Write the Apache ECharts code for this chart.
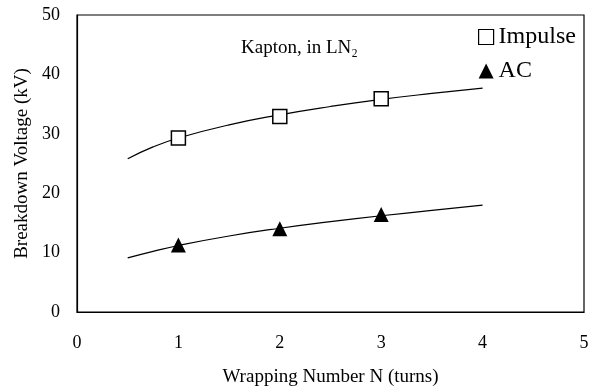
<!DOCTYPE html>
<html>
<head>
<meta charset="utf-8">
<script src="https://cdn.jsdelivr.net/npm/echarts@6/dist/echarts.min.js"></script>
<style>
  html, body { margin: 0; padding: 0; background: #fff; }
  #chart { width: 600px; height: 388px; }
</style>
</head>
<body>
<div id="chart"></div>
<script>
// measured points
const turns = [1, 2, 3];
const impulse = [29.3, 32.9, 35.9];
const ac = [11.3, 14.0, 16.4];

// fitted curves
const fitX = [0.5, 0.75, 1, 1.5, 2, 2.5, 3, 3.5, 4];
const impulseFit = [25.8, 27.8, 29.3, 31.5, 33.2, 34.6, 35.8, 36.8, 37.7];
const acFit = [9.1, 10.2, 11.2, 12.8, 14.1, 15.2, 16.2, 17.1, 18.0];

const pair = (xs, ys) => xs.map((x, i) => [x, ys[i]]);
const FONT = "Liberation Serif";

const chart = echarts.init(document.getElementById("chart"));

const option = {
  animation: false,
  backgroundColor: "#fff",
  textStyle: { fontFamily: FONT, color: "#000" },
  grid: {
    left: 77, right: 16, top: 15, bottom: 76,
    outerBoundsMode: "none",
    show: true, borderColor: "#000", borderWidth: 1.2
  },
  legend: {
    orient: "vertical",
    left: 473, top: 20,
    itemGap: 10,
    itemWidth: 15, itemHeight: 15,
    textStyle: { fontFamily: FONT, fontSize: 24, color: "#000" },
    data: [
      { name: "Impulse", icon: "rect", itemStyle: { color: "#fff", borderColor: "#000", borderWidth: 1.2 } },
      { name: "AC", icon: "triangle", itemStyle: { color: "#000" } }
    ]
  },
  graphic: [
    {
      type: "text",
      left: 241, top: 39,
      style: { text: "Kapton, in LN\u2082", font: "19px " + FONT, fill: "#000" }
    }
  ],
  xAxis: {
    type: "value",
    min: 0, max: 5, interval: 1,
    name: "Wrapping Number N (turns)",
    nameLocation: "middle",
    nameGap: 56,
    nameTextStyle: { fontFamily: FONT, fontSize: 19, color: "#000" },
    axisLine: { show: true, lineStyle: { color: "#000", width: 1.2 } },
    axisTick: { show: false },
    splitLine: { show: false },
    axisLabel: { fontFamily: FONT, fontSize: 18, color: "#000", margin: 22 }
  },
  yAxis: {
    type: "value",
    min: 0, max: 50, interval: 10,
    name: "Breakdown Voltage (kV)",
    nameLocation: "middle",
    nameGap: 37,
    nameTextStyle: { fontFamily: FONT, fontSize: 19, color: "#000" },
    axisLine: { show: true, lineStyle: { color: "#000", width: 1.2 } },
    axisTick: { show: false },
    splitLine: { show: false },
    axisLabel: { fontFamily: FONT, fontSize: 18, color: "#000", margin: 17 }
  },
  series: [
    {
      name: "Impulse fit",
      type: "line",
      smooth: true,
      showSymbol: false,
      data: pair(fitX, impulseFit),
      lineStyle: { color: "#000", width: 1.2 },
      z: 1
    },
    {
      name: "AC fit",
      type: "line",
      smooth: true,
      showSymbol: false,
      data: pair(fitX, acFit),
      lineStyle: { color: "#000", width: 1.2 },
      z: 1
    },
    {
      name: "Impulse",
      type: "scatter",
      symbol: "rect",
      symbolSize: 14,
      data: pair(turns, impulse),
      itemStyle: { color: "#fff", borderColor: "#000", borderWidth: 1.5, opacity: 1 },
      z: 3
    },
    {
      name: "AC",
      type: "scatter",
      symbol: "triangle",
      symbolSize: 15,
      data: pair(turns, ac),
      itemStyle: { color: "#000", opacity: 1 },
      z: 3
    }
  ]
};

chart.setOption(option);
</script>
</body>
</html>
